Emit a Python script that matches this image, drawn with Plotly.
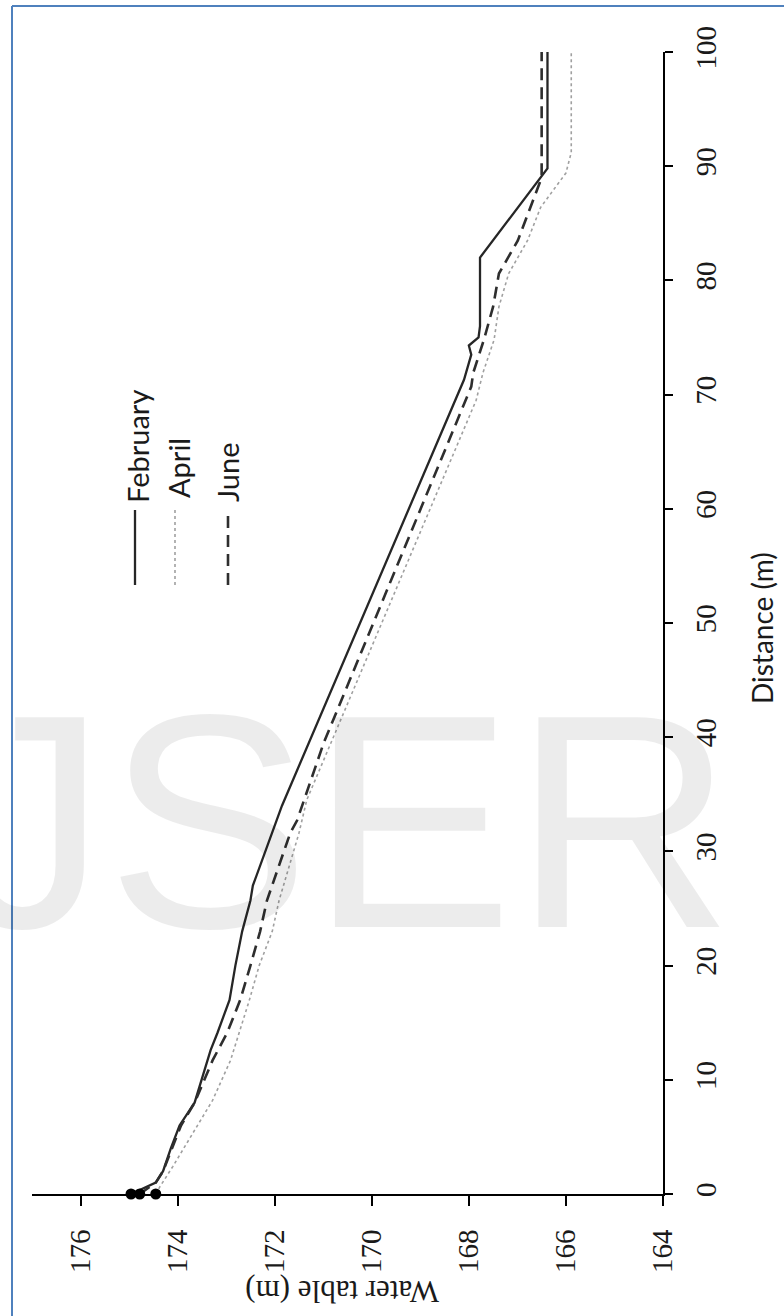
import plotly.graph_objects as go

# Water table profiles along the transect (distance in m, elevation in m)
distance_feb = [0, 1, 2, 4, 6, 8, 12.6, 14.1, 17, 20, 23, 25.7, 27, 32, 34, 71.3, 73.5, 74.3, 75, 76, 82, 89.8, 100]
water_feb = [174.96, 174.45, 174.3, 174.14, 173.96, 173.65, 173.32, 173.18, 172.93, 172.81, 172.67, 172.5,
             172.45, 172.02, 171.85, 168.10, 167.95, 168.0, 167.8, 167.77, 167.77, 166.38, 166.38]

distance_apr = [0, 0.6, 2.4, 5.3, 8.2, 11.7, 14.1, 17, 20, 23, 25.7, 31.6, 34.5, 69.5, 71.9, 74.8, 77.7,
                80.6, 83.5, 86.4, 89.4, 91.2, 100]
water_apr = [174.45, 174.37, 174.1, 173.69, 173.28, 172.91, 172.73, 172.52, 172.32, 172.05, 171.91, 171.5,
             171.34, 167.85, 167.71, 167.48, 167.38, 167.18, 166.79, 166.52, 166.0, 165.89, 165.89]

distance_jun = [0, 1, 2, 4, 6, 8, 11.7, 14.1, 17, 20, 23, 25.7, 31.6, 32.7, 39.5, 70.7, 71.9, 74.8, 77.7,
                80.6, 83.5, 89, 100]
water_jun = [174.78, 174.45, 174.3, 174.12, 173.93, 173.65, 173.28, 172.98, 172.71, 172.5, 172.3, 172.16,
             171.68, 171.54, 170.99, 167.95, 167.91, 167.69, 167.5, 167.38, 166.99, 166.5, 166.5]

series_names = ["February", "April", "June"]
water_ticks = [164, 166, 168, 170, 172, 174, 176]
distance_ticks = [0, 10, 20, 30, 40, 50, 60, 70, 80, 90, 100]

W, H = 784, 1316
L, R, T, B = 32, 121, 52, 122
PW, PH = W - L - R, H - T - B


def px(x):
    return (x - L) / PW


def py(y):
    return (H - B - y) / PH


SERIF = "Liberation Serif"
SANS = "Lato"

fig = go.Figure()

fig.add_trace(go.Scatter(x=water_feb, y=distance_feb, mode="lines", name=series_names[0],
                         line=dict(color="#262626", width=2.3), cliponaxis=False))
fig.add_trace(go.Scatter(x=water_apr, y=distance_apr, mode="lines", name=series_names[1],
                         line=dict(color="#a0a0a0", width=1.6, dash="dot"), cliponaxis=False))
fig.add_trace(go.Scatter(x=water_jun, y=distance_jun, mode="lines", name=series_names[2],
                         line=dict(color="#2e2e2e", width=2.6, dash="12px,7px"), cliponaxis=False))

# starting points at the channel edge
fig.add_trace(go.Scatter(x=[water_feb[0], water_jun[0], water_apr[0]],
                         y=[distance_feb[0], distance_jun[0], distance_apr[0]],
                         mode="markers", marker=dict(color="black", size=11),
                         cliponaxis=False, showlegend=False))

tick_font = dict(family=SERIF, size=29, color="#1a1a1a")

fig.update_layout(
    width=W, height=H,
    margin=dict(l=L, r=R, t=T, b=B),
    paper_bgcolor="white", plot_bgcolor="white",
    font=dict(family=SERIF, size=29, color="#1a1a1a"),
    showlegend=False,
    xaxis=dict(range=[177, 164], tickvals=water_ticks, ticktext=[str(v) for v in water_ticks],
               ticks="outside", ticklen=10, tickwidth=2,
               tickcolor="black", showline=True, linecolor="black", linewidth=2, showgrid=False,
               zeroline=False, tickangle=-90, tickfont=tick_font, ticklabelstandoff=12),
    yaxis=dict(range=[0, 100], tickvals=distance_ticks, ticktext=[str(v) for v in distance_ticks],
               side="right", ticks="outside", ticklen=8,
               tickwidth=2, tickcolor="black", showline=True, linecolor="black", linewidth=2,
               showgrid=False, zeroline=False, tickangle=-90, tickfont=tick_font,
               ticklabelstandoff=8),
)


def note(text, x, y, angle, family, size, color="#1a1a1a", xanchor="center"):
    return dict(text=text, x=px(x), y=py(y), xref="paper", yref="paper", xanchor=xanchor,
                yanchor="middle", textangle=angle, showarrow=False,
                font=dict(family=family, size=size, color=color))


annotations = [
    # watermark
    note("JSER", -48, 821, 0, "Liberation Sans", 305, "rgba(0,0,0,0.075)", "left"),
    note("Distance (m)", 762, 628, -90, SANS, 28),
    note("Water table (m)", 342, 1292, 180, SERIF, 31),
    note("February", 137, 447, -90, SANS, 29),
    note("April", 178, 468, -90, SANS, 29),
    note("June", 228, 472, -90, SANS, 29),
]
fig.update_layout(annotations=annotations)

shapes = [
    # legend samples
    dict(type="line", xref="paper", yref="paper", x0=px(135), x1=px(135), y0=py(585), y1=py(510),
         line=dict(color="#262626", width=2.3)),
    dict(type="line", xref="paper", yref="paper", x0=px(175), x1=px(175), y0=py(585), y1=py(510),
         line=dict(color="#a0a0a0", width=1.6, dash="dot")),
    dict(type="line", xref="paper", yref="paper", x0=px(228), x1=px(228), y0=py(585), y1=py(510),
         line=dict(color="#2e2e2e", width=2.6, dash="12px,7px")),
    # frame
    dict(type="line", xref="paper", yref="paper", x0=px(12), x1=px(784), y0=py(6), y1=py(6),
         line=dict(color="#4f81bd", width=2)),
    dict(type="line", xref="paper", yref="paper", x0=px(12), x1=px(12), y0=py(6), y1=py(1316),
         line=dict(color="#4f81bd", width=2)),
]
fig.update_layout(shapes=shapes)

fig.write_html("out.html")
